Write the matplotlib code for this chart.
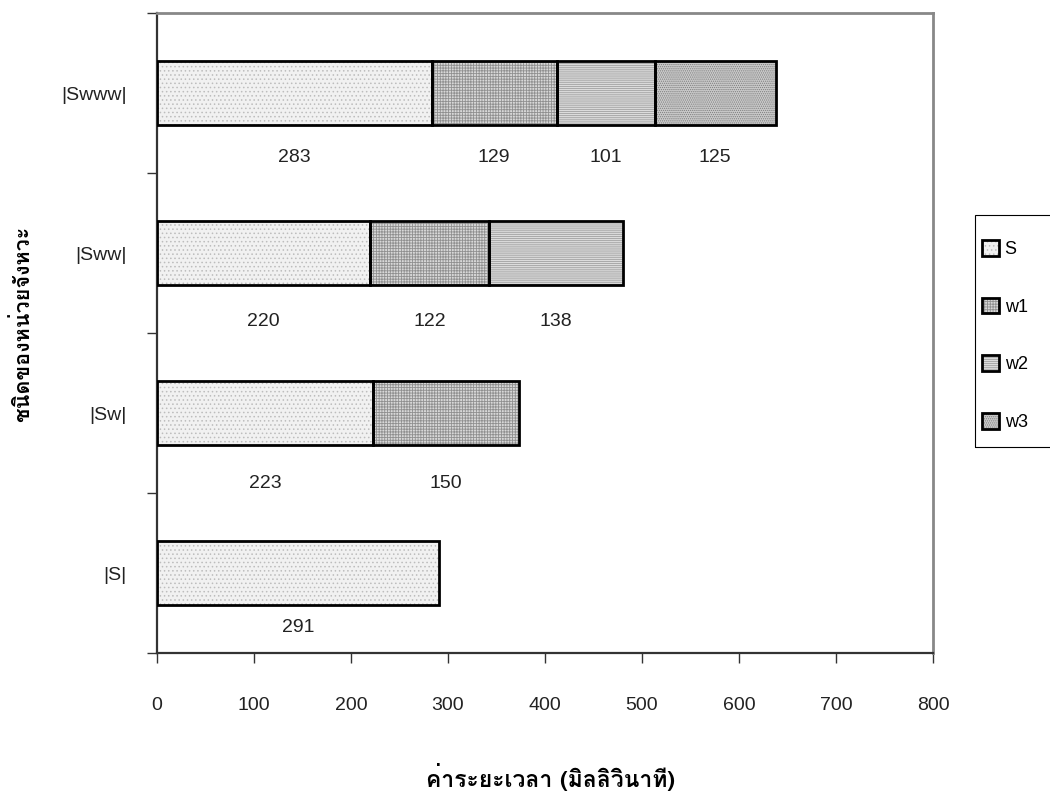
"""Stacked horizontal bar chart: duration of rhythmic units (S, w1, w2, w3)."""

import numpy as np
import matplotlib

matplotlib.use("Agg")
import matplotlib.pyplot as plt
from matplotlib import font_manager
from matplotlib.ft2font import FT2Font
from matplotlib.patches import Patch, Rectangle

CATEGORIES = ["|S|", "|Sw|", "|Sww|", "|Swww|"]
SERIES_NAMES = ["S", "w1", "w2", "w3"]
# values per series, in category order (bottom to top)
S_VALUES = [291, 223, 220, 283]
W1_VALUES = [0, 150, 122, 129]
W2_VALUES = [0, 0, 138, 101]
W3_VALUES = [0, 0, 0, 125]
X_TICKS = [0, 100, 200, 300, 400, 500, 600, 700, 800]

X_LABEL = "ค่าระยะเวลา (มิลลิวินาที)"
Y_LABEL = "ชนิดของหน่วยจังหวะ"

FACES = ["#f1f1f1", "#d8d8d8", "#dcdcdc", "#cacaca"]
HATCHES = ["....", "++++++", "--------", "........"]
HATCH_COLORS = ["#bdbdbd", "#909090", "#a0a0a0", "#7e7e7e"]
# how far below the bar centre each row's value labels sit (Excel placed them unevenly)
LABEL_DROP = [0.34, 0.44, 0.43, 0.40]


def find_thai_family():
    for fe in font_manager.fontManager.ttflist:
        try:
            cmap = FT2Font(fe.fname).get_charmap()
        except Exception:
            continue
        if 0x0E04 in cmap and 0x0E32 in cmap:
            return fe.name
    return None


thai = find_thai_family()
base = ["Liberation Sans", "DejaVu Sans"]
plt.rcParams["font.family"] = base
thai_family = ([thai] if thai else []) + base
plt.rcParams["hatch.linewidth"] = 0.6

fig = plt.figure(figsize=(10.5, 7.98), dpi=100)
ax = fig.add_axes([157 / 1050, 1 - 653 / 798, (933 - 157) / 1050, (653 - 13) / 798])

y = np.arange(len(CATEGORIES))
series = [S_VALUES, W1_VALUES, W2_VALUES, W3_VALUES]
left = np.zeros(len(CATEGORIES))
height = 0.40
handles = []
for vals, face, hatch, hcol, name in zip(series, FACES, HATCHES, HATCH_COLORS, SERIES_NAMES):
    vals = np.asarray(vals, dtype=float)
    mask = vals > 0
    ax.barh(y[mask], vals[mask], left=left[mask], height=height, color=face,
            edgecolor=hcol, hatch=hatch, linewidth=0, zorder=2)
    ax.barh(y[mask], vals[mask], left=left[mask], height=height, fill=False,
            edgecolor="black", linewidth=2.0, zorder=3)
    for yi, l, v in zip(y[mask], left[mask], vals[mask]):
        ax.text(l + v / 2, yi - LABEL_DROP[yi], f"{int(v)}", ha="center", va="center",
                fontsize=14, color="#222222")
    handles.append((Patch(facecolor=face, edgecolor=hcol, hatch=hatch, linewidth=0),
                    Patch(fill=False, edgecolor="black", linewidth=2.0)))
    left = left + vals

ax.set_xlim(0, 800)
ax.set_ylim(-0.5, 3.5)
ax.set_xticks(X_TICKS)
ax.set_xticklabels([str(t) for t in X_TICKS], fontsize=14, color="#222222")
ax.tick_params(axis="x", direction="out", length=7, width=1.0, pad=25, color="#333333")

ax.set_yticks(np.arange(-0.5, 4.0, 1.0))
ax.set_yticklabels([])
ax.set_yticks(y, minor=True)
ax.set_yticklabels(CATEGORIES, minor=True, fontsize=14, color="#222222")
ax.tick_params(axis="y", which="major", direction="out", length=7, width=1.0, color="#333333")
ax.tick_params(axis="y", which="minor", length=0, pad=22)

for side in ("left", "bottom"):
    ax.spines[side].set_color("#333333")
    ax.spines[side].set_linewidth(1.6)
for side in ("top", "right"):
    ax.spines[side].set_color("#888888")
    ax.spines[side].set_linewidth(2.0)

fig.text(550 / 1050, 1 - 777 / 798, X_LABEL, ha="center", va="center",
         fontsize=16.5, fontweight="bold", family=thai_family)
fig.text(22 / 1050, 1 - 324 / 798, Y_LABEL, ha="center", va="center", rotation=90,
         fontsize=15.5, fontweight="bold", family=thai_family)

# legend frame drawn separately so the entries can sit where Excel put them
fig.patches.append(Rectangle((975 / 1050, 1 - 447 / 798), 80 / 1050, 232 / 798,
                             transform=fig.transFigure, fill=False, edgecolor="black",
                             linewidth=0.8))
fig.legend(handles, SERIES_NAMES, loc="upper left",
           bbox_to_anchor=(982 / 1050, 1 - 240 / 798), frameon=False,
           fontsize=13, labelspacing=2.2, handlelength=0.95,
           handleheight=0.95, handletextpad=0.3, borderpad=0, borderaxespad=0)

fig.savefig("out.png", dpi=100)
